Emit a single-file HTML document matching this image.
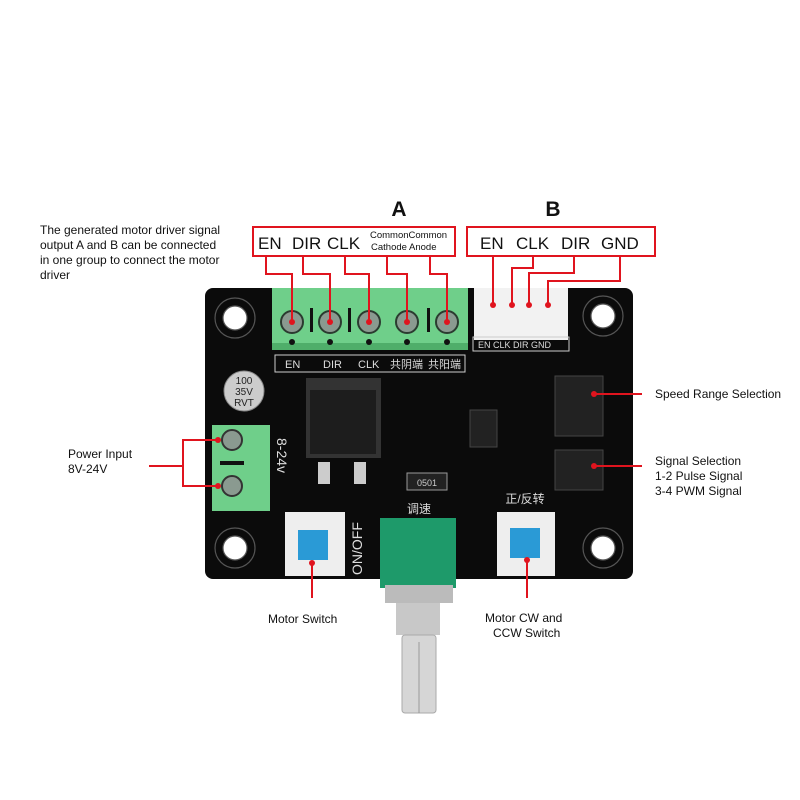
<!DOCTYPE html>
<html><head><meta charset="utf-8"><style>
html,body{margin:0;padding:0;background:#fff;width:800px;height:800px;overflow:hidden}
svg text{font-family:"Liberation Sans","Noto Sans CJK SC",sans-serif}
</style></head><body>
<svg width="800" height="800" viewBox="0 0 800 800" xmlns="http://www.w3.org/2000/svg">
<rect width="800" height="800" fill="#fff"/>
<!-- board -->
<rect x="205" y="288" width="428" height="291" rx="8" fill="#0b0b0b"/>
<!-- mounting holes -->
<g fill="#fff" stroke="#555" stroke-width="1.2">
<circle cx="235" cy="318" r="20" fill="none"/><circle cx="235" cy="318" r="12"/>
<circle cx="603" cy="316" r="20" fill="none"/><circle cx="603" cy="316" r="12"/>
<circle cx="235" cy="548" r="20" fill="none"/><circle cx="235" cy="548" r="12"/>
<circle cx="603" cy="548" r="20" fill="none"/><circle cx="603" cy="548" r="12"/>
</g>
<!-- terminal A -->
<rect x="272" y="288" width="196" height="62" fill="#6fcf8a"/>
<rect x="272" y="343" width="196" height="7" fill="#4fae6a"/>
<g fill="#8a9a90" stroke="#2b3b30" stroke-width="2">
<circle cx="292" cy="322" r="11"/><circle cx="330" cy="322" r="11"/><circle cx="369" cy="322" r="11"/><circle cx="407" cy="322" r="11"/><circle cx="447" cy="322" r="11"/>
</g>
<g fill="#111"><circle cx="292" cy="342" r="3"/><circle cx="330" cy="342" r="3"/><circle cx="369" cy="342" r="3"/><circle cx="407" cy="342" r="3"/><circle cx="447" cy="342" r="3"/>
<rect x="310" y="308" width="3" height="24"/><rect x="348" y="308" width="3" height="24"/><rect x="427" y="308" width="3" height="24"/></g>
<rect x="275" y="355" width="190" height="17" fill="none" stroke="#ccc" stroke-width="1"/>
<g fill="#ddd" font-size="11"><text x="285" y="368">EN</text><text x="323" y="368">DIR</text><text x="358" y="368">CLK</text><text x="390" y="368">共阴端</text><text x="428" y="368">共阳端</text></g>
<!-- B connector -->
<rect x="474" y="288" width="94" height="52" fill="#f2f2f2"/>
<rect x="473" y="337" width="96" height="14" fill="none" stroke="#ccc"/>
<text x="478" y="348" fill="#ddd" font-size="9">EN CLK DIR GND</text>
<!-- capacitor -->
<circle cx="244" cy="391" r="20" fill="#ccc" stroke="#888"/>
<text x="244" y="384" font-size="10" text-anchor="middle" fill="#222">100</text>
<text x="244" y="395" font-size="10" text-anchor="middle" fill="#222">35V</text>
<text x="244" y="406" font-size="10" text-anchor="middle" fill="#222">RVT</text>
<!-- power terminal -->
<rect x="212" y="425" width="58" height="86" fill="#6fcf8a"/>
<circle cx="232" cy="440" r="10" fill="#8a9a90" stroke="#333" stroke-width="2"/>
<circle cx="232" cy="486" r="10" fill="#8a9a90" stroke="#333" stroke-width="2"/>
<rect x="220" y="461" width="24" height="4" fill="#111"/>
<text x="277" y="438" fill="#ddd" font-size="14" transform="rotate(90 277 438)">8-24v</text>
<!-- regulator -->
<rect x="306" y="378" width="75" height="80" fill="#333"/>
<rect x="310" y="390" width="66" height="64" fill="#1d1d1d"/>
<rect x="318" y="462" width="12" height="22" fill="#ccc"/><rect x="354" y="462" width="12" height="22" fill="#ccc"/>
<!-- IC -->
<rect x="470" y="410" width="27" height="37" fill="#222" stroke="#444"/>
<!-- jumpers -->
<rect x="555" y="376" width="48" height="60" fill="#222" stroke="#444"/>
<rect x="555" y="450" width="48" height="40" fill="#222" stroke="#444"/>
<rect x="407" y="473" width="40" height="17" fill="#222" stroke="#999"/>
<text x="427" y="486" fill="#ccc" font-size="9" text-anchor="middle">0501</text>
<!-- switches -->
<rect x="285" y="512" width="60" height="64" fill="#eee"/>
<rect x="298" y="530" width="30" height="30" fill="#2a9ad6"/>
<rect x="497" y="512" width="58" height="64" fill="#eee"/>
<rect x="510" y="528" width="30" height="30" fill="#2a9ad6"/>
<text x="362" y="575" fill="#ddd" font-size="14" transform="rotate(-90 362 575)">ON/OFF</text>
<text x="419" y="513" fill="#ddd" font-size="12" text-anchor="middle">调速</text>
<text x="525" y="503" fill="#ddd" font-size="12" text-anchor="middle">正/反转</text>
<!-- pot -->
<rect x="380" y="518" width="76" height="70" fill="#1e9a6a"/>
<rect x="385" y="585" width="68" height="18" fill="#bbb"/>
<rect x="396" y="603" width="44" height="32" fill="#c8c8c8"/>
<rect x="402" y="635" width="34" height="78" rx="3" fill="#d6d6d6" stroke="#aaa"/>
<line x1="419" y1="642" x2="419" y2="713" stroke="#999"/>
<!-- label boxes -->
<g fill="none" stroke="#e0141e" stroke-width="2">
<rect x="253" y="227" width="202" height="29"/>
<rect x="467" y="227" width="188" height="29"/>
<polyline points="266,256 266,274 292,274 292,322"/>
<polyline points="303,256 303,274 330,274 330,322"/>
<polyline points="345,256 345,274 369,274 369,322"/>
<polyline points="387,256 387,274 407,274 407,322"/>
<polyline points="430,256 430,274 447,274 447,322"/>
<polyline points="493,256 493,305"/>
<polyline points="533,256 533,268 512,268 512,305"/>
<polyline points="574,256 574,273 529,273 529,305"/>
<polyline points="620,256 620,281 548,281 548,305"/>
<polyline points="149,466 183,466"/>
<polyline points="218,440 183,440 183,486 218,486"/>
<line x1="594" y1="394" x2="642" y2="394"/>
<line x1="594" y1="466" x2="642" y2="466"/>
<line x1="312" y1="563" x2="312" y2="598"/>
<line x1="527" y1="560" x2="527" y2="598"/>
</g>
<g fill="#e0141e"><circle cx="292" cy="322" r="3"/><circle cx="330" cy="322" r="3"/><circle cx="369" cy="322" r="3"/><circle cx="407" cy="322" r="3"/><circle cx="447" cy="322" r="3"/>
<circle cx="493" cy="305" r="3"/><circle cx="512" cy="305" r="3"/><circle cx="529" cy="305" r="3"/><circle cx="548" cy="305" r="3"/>
<circle cx="218" cy="440" r="3"/><circle cx="218" cy="486" r="3"/><circle cx="594" cy="394" r="3"/><circle cx="594" cy="466" r="3"/>
<circle cx="312" cy="563" r="3"/><circle cx="527" cy="560" r="3"/></g>
<text x="399" y="216" font-size="21" font-weight="bold" text-anchor="middle" fill="#111">A</text>
<text x="553" y="216" font-size="21" font-weight="bold" text-anchor="middle" fill="#111">B</text>
<g font-size="17" fill="#111"><text x="258" y="249">EN</text><text x="292" y="249">DIR</text><text x="327" y="249">CLK</text>
<text x="480" y="249">EN</text><text x="516" y="249">CLK</text><text x="561" y="249">DIR</text><text x="601" y="249">GND</text></g>
<text x="370" y="238" font-size="9.5" fill="#111">CommonCommon</text>
<text x="371" y="250" font-size="9.5" fill="#111">Cathode Anode</text>
<g font-size="12" fill="#111">
<text x="40" y="234">The generated motor driver signal</text>
<text x="40" y="249">output A and B can be connected</text>
<text x="40" y="264">in one group to connect the motor</text>
<text x="40" y="279">driver</text>
<text x="68" y="458">Power Input</text><text x="68" y="473">8V-24V</text>
<text x="655" y="398">Speed Range Selection</text>
<text x="655" y="465">Signal Selection</text><text x="655" y="480">1-2 Pulse Signal</text><text x="655" y="495">3-4 PWM Signal</text>
<text x="268" y="623">Motor Switch</text>
<text x="485" y="622">Motor CW and</text><text x="493" y="637">CCW Switch</text>
</g>
</svg>
</body></html>
